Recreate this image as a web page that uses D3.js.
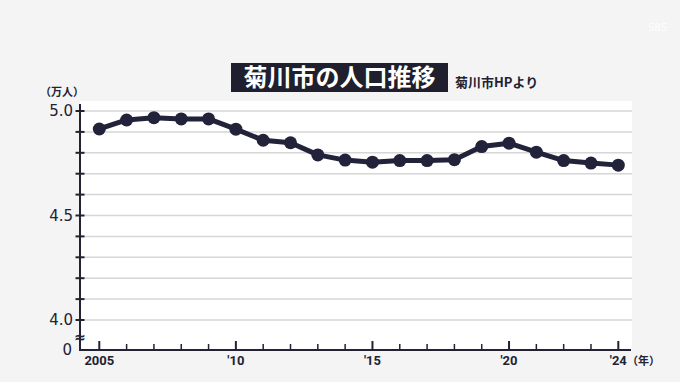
<!DOCTYPE html>
<html><head><meta charset="utf-8">
<script src="https://cdn.jsdelivr.net/npm/d3@7"></script>
<style>
html,body{margin:0;padding:0;background:#f4f4f4;}
svg{display:block;}
</style></head>
<body>
<script>
const years = [2005,2006,2007,2008,2009,2010,2011,2012,2013,2014,2015,2016,2017,2018,2019,2020,2021,2022,2023,2024];
const population = [4.914,4.957,4.968,4.962,4.962,4.913,4.860,4.848,4.790,4.765,4.755,4.763,4.763,4.767,4.830,4.846,4.803,4.763,4.751,4.741];
const yTickValues = [4.0,4.5,5.0];
const yLabels = ["4.0","4.5","5.0"];
const xMajor = [2005,2010,2015,2020,2024];
const xLabels = ["2005","'10","'15","'20","'24"];
const title = "菊川市の人口推移";
const source = "菊川市HPより";

const W=680,H=382;
const svg=d3.select("body").append("svg").attr("width",W).attr("height",H);
svg.append("rect").attr("width",W).attr("height",H).attr("fill","#f4f4f4");

const x=d3.scaleLinear().domain([2005,2024]).range([99.3,618.3]);
const y=d3.scaleLinear().domain([4.0,5.0]).range([320,111]);
const axisX=80, baseY=350, rightX=632, topY=101;

// plot area
svg.append("rect").attr("x",axisX).attr("y",topY).attr("width",rightX-axisX).attr("height",baseY-topY).attr("fill","#ffffff");

// grid
const gridVals=d3.range(0,11).map(i=>+(4.0+i*0.1).toFixed(1));
svg.append("g").selectAll("line").data(gridVals).join("line")
  .attr("x1",axisX).attr("x2",rightX).attr("y1",d=>y(d)).attr("y2",d=>y(d))
  .attr("stroke","#d6d6d6").attr("stroke-width",1.5);

// y axis
const yAxis=d3.axisLeft(y).tickValues(gridVals).tickSize(0).tickFormat("");
const gy=svg.append("g").attr("transform",`translate(${axisX},0)`).call(yAxis);
gy.select(".domain").remove();
svg.append("line").attr("x1",axisX).attr("x2",axisX).attr("y1",104).attr("y2",baseY).attr("stroke","#222233").attr("stroke-width",2);
svg.append("g").selectAll("line").data(gridVals).join("line")
  .attr("x1",axisX-4.5).attr("x2",axisX+4.5).attr("y1",d=>y(d)).attr("y2",d=>y(d))
  .attr("stroke","#222233").attr("stroke-width",2);
svg.append("g").selectAll("text").data(yTickValues).join("text")
  .attr("x",73).attr("y",d=>y(d)).attr("dy","0.36em").attr("text-anchor","end")
  .attr("font-family","DejaVu Sans, sans-serif").attr("font-size",15).attr("fill","#222233")
  .text((d,i)=>yLabels[i]);
svg.append("text").attr("x",72).attr("y",baseY).attr("dy","0.36em").attr("text-anchor","end")
  .attr("font-family","DejaVu Sans, sans-serif").attr("font-size",15).attr("fill","#222233").text("0");
// break mark
svg.append("text").attr("x",axisX).attr("y",337).attr("dy","0.36em").attr("text-anchor","middle")
  .attr("font-family","DejaVu Sans, sans-serif").attr("font-size",14).attr("font-weight","bold").attr("fill","#222233").text("≈");
svg.append("text").attr("x",40).attr("y",96).attr("font-family","'Noto Sans CJK JP', sans-serif")
  .attr("font-size",11).attr("font-weight","bold").attr("fill","#222233").text("（万人）");

// x axis
const xAxis=d3.axisBottom(x).tickValues(d3.range(2005,2025)).tickSize(0).tickFormat("");
const gx=svg.append("g").attr("transform",`translate(0,${baseY})`).call(xAxis);
gx.select(".domain").remove();
svg.append("line").attr("x1",axisX-1).attr("x2",rightX-1).attr("y1",baseY).attr("y2",baseY).attr("stroke","#222233").attr("stroke-width",2);
svg.append("g").selectAll("line").data(years).join("line")
  .attr("x1",d=>x(d)).attr("x2",d=>x(d)).attr("y1",baseY).attr("y2",d=>xMajor.includes(d)?baseY-9:baseY-6)
  .attr("stroke","#222233").attr("stroke-width",d=>xMajor.includes(d)?2:1.5);
svg.append("g").selectAll("text").data(xMajor).join("text")
  .attr("x",d=>x(d)).attr("y",365).attr("text-anchor","middle")
  .attr("font-family","'Liberation Sans Narrow', 'Roboto', sans-serif").attr("font-weight","bold")
  .attr("font-size",13).attr("fill","#222233").text((d,i)=>xLabels[i]);
svg.append("text").attr("x",627).attr("y",365).attr("font-family","'Noto Sans CJK JP', sans-serif")
  .attr("font-size",11).attr("font-weight","bold").attr("fill","#222233").text("（年）");

// line
const line=d3.line().x((d,i)=>x(years[i])).y(d=>y(d));
svg.append("path").datum(population).attr("d",line).attr("fill","none")
  .attr("stroke","#22223a").attr("stroke-width",5).attr("stroke-linejoin","round");
svg.append("g").selectAll("circle").data(population).join("circle")
  .attr("cx",(d,i)=>x(years[i])).attr("cy",d=>y(d)).attr("r",6.5).attr("fill","#22223a");

// title
svg.append("rect").attr("x",231).attr("y",63).attr("width",217).attr("height",29).attr("fill","#1f1f2e");
svg.append("text").attr("x",339.5).attr("y",77.5).attr("dy","0.36em").attr("text-anchor","middle")
  .attr("font-family","'Noto Sans CJK JP', sans-serif").attr("font-weight","bold").attr("font-size",24)
  .attr("fill","#ffffff").text(title);
svg.append("text").attr("x",455).attr("y",87).attr("font-family","'Noto Sans CJK JP', sans-serif")
  .attr("font-weight","bold").attr("font-size",13).attr("fill","#222233").text(source);

// logo
svg.append("text").attr("x",648).attr("y",31).attr("font-family","DejaVu Sans, sans-serif")
  .attr("font-size",10).attr("fill","#ffffff").attr("opacity",0.9).text("SBS");
</script>
</body></html>
